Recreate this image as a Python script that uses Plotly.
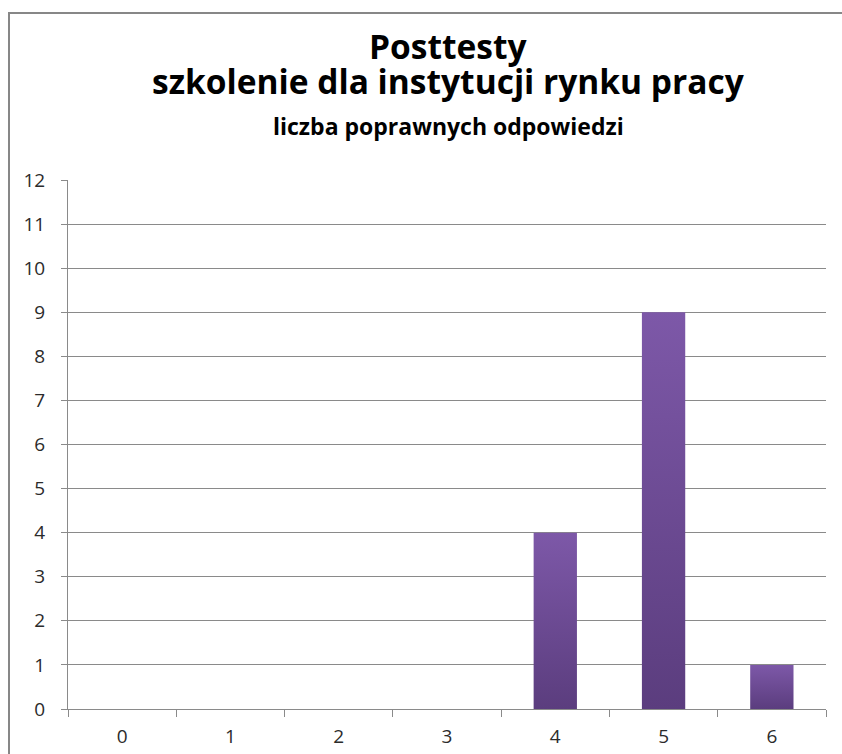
import plotly.graph_objects as go

# ---- data ----
categories = ["0", "1", "2", "3", "4", "5", "6"]
counts = [0, 0, 0, 0, 4, 9, 1]
y_ticks = list(range(0, 13))
title_main = "Posttesty"
title_sub = "szkolenie dla instytucji rynku pracy"
title_small = "liczba poprawnych odpowiedzi"

# ---- style ----
FONT = "Open Sans"
GRID = "#8a8a8a"
TEXT = "#2b2b2b"
BAR_BOTTOM = "#5b3d7e"
BAR_TOP = "#7d58a8"
HALF_W = 0.2

W, H = 842, 754
L, R, T, B = 68, 16, 180, 45
pw, ph = W - L - R, H - T - B


def py(pix):
    return (H - B - pix) / ph


def px(pix):
    return (pix - L) / pw


fig = go.Figure()

for i, v in enumerate(counts):
    if v <= 0:
        continue
    fig.add_trace(go.Scatter(
        x=[i - HALF_W, i - HALF_W, i + HALF_W, i + HALF_W, i - HALF_W],
        y=[0, v, v, 0, 0],
        mode="lines",
        line=dict(width=0),
        fill="toself",
        fillgradient=dict(type="vertical",
                          colorscale=[[0, BAR_BOTTOM], [1, BAR_TOP]]),
        hoverinfo="skip",
        showlegend=False,
    ))

n = len(categories)
fig.update_xaxes(
    range=[-0.5, n - 0.5],
    tickmode="array",
    tickvals=list(range(n)),
    ticktext=categories,
    ticks="",
    showgrid=False,
    zeroline=False,
    showline=True,
    linecolor=GRID,
    linewidth=1,
    tickfont=dict(family=FONT, size=19, color=TEXT),
    ticklabelstandoff=10,
    minor=dict(tickmode="linear", tick0=-0.5, dtick=1, ticks="outside",
               ticklen=7, tickcolor=GRID, tickwidth=1, showgrid=False),
    automargin=False,
    fixedrange=True,
)
fig.update_yaxes(
    range=[0, 12],
    tickmode="array",
    tickvals=y_ticks,
    ticks="outside",
    ticklen=6,
    tickcolor=GRID,
    showgrid=True,
    gridcolor=GRID,
    gridwidth=1,
    zeroline=False,
    showline=True,
    linecolor=GRID,
    linewidth=1,
    tickfont=dict(family=FONT, size=19, color=TEXT),
    ticklabelstandoff=12,
    automargin=False,
    fixedrange=True,
)

cx = px(448)
fig.add_annotation(text="<b>%s</b>" % title_main, xref="paper", yref="paper",
                   x=cx, y=py(46), xanchor="center", yanchor="middle",
                   showarrow=False, font=dict(family=FONT, size=33.5, color="#000000"))
fig.add_annotation(text="<b>%s</b>" % title_sub, xref="paper", yref="paper",
                   x=cx, y=py(81), xanchor="center", yanchor="middle",
                   showarrow=False, font=dict(family=FONT, size=33.5, color="#000000"))
fig.add_annotation(text="<b>%s</b>" % title_small, xref="paper", yref="paper",
                   x=cx, y=py(126), xanchor="center", yanchor="middle",
                   showarrow=False, font=dict(family=FONT, size=23, color="#000000"))

fig.add_shape(type="rect", xref="paper", yref="paper",
              x0=px(9), x1=1.2, y0=-0.3, y1=py(13),
              line=dict(color="#878787", width=2), layer="below")

fig.update_layout(
    width=W, height=H,
    margin=dict(l=L, r=R, t=T, b=B),
    paper_bgcolor="white",
    plot_bgcolor="white",
    showlegend=False,
)

fig.write_html("out.html", config={"displayModeBar": False})
